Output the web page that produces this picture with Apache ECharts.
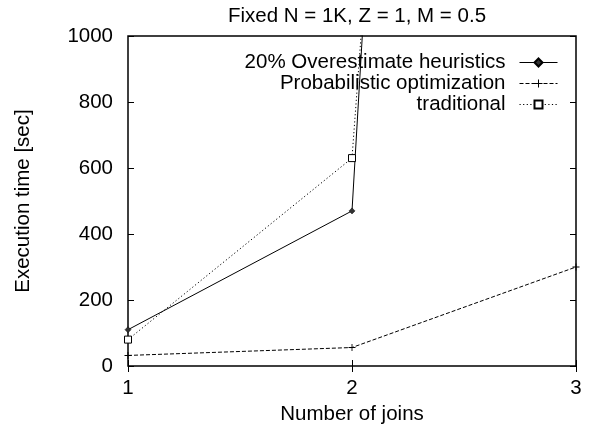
<!DOCTYPE html>
<html>
<head>
<meta charset="utf-8">
<script src="https://cdn.jsdelivr.net/npm/echarts@6/dist/echarts.min.js"></script>
<style>
  html, body { margin: 0; padding: 0; background: #fff; }
  #chart { width: 591px; height: 430px; }
</style>
</head>
<body>
<div id="chart"></div>
<script>
// Number of joins on the x axis
const joins = [1, 2, 3];

// Execution time [sec] per method
const overestimate = [110, 470, 12000];
const probabilistic = [32, 56, 300];
const traditional = [80, 630, 9800];

const seriesNames = [
  '20% Overestimate heuristics',
  'Probabilistic optimization',
  'traditional'
];

const yTicks = [0, 200, 400, 600, 800, 1000];

const FONT = 'Liberation Sans, Arial, Helvetica, sans-serif';
const FS = 20.5;
const plusPath = 'path://M0,3.5H8V4.5H0Z M3.5,0H4.5V8H3.5Z';

function pairs(values) {
  return joins.map((x, i) => [x, values[i]]);
}

const chart = echarts.init(document.getElementById('chart'), null, { renderer: 'canvas' });

function legendFor(name, top) {
  return {
    data: [name],
    right: 33,
    top: top,
    orient: 'vertical',
    align: 'right',
    itemWidth: 38,
    itemHeight: 10,
    padding: 0,
    selectedMode: false,
    lineStyle: { width: 1 },
    textStyle: {
      fontFamily: FONT,
      fontSize: FS,
      color: '#000',
      padding: [0, 9, 0, 0]
    }
  };
}

const option = {
  animation: false,
  backgroundColor: '#fff',
  title: {
    text: 'Fixed N = 1K, Z = 1, M = 0.5',
    left: 352,
    textAlign: 'center',
    top: 1,
    textStyle: { fontFamily: FONT, fontSize: FS, fontWeight: 'normal', color: '#000' }
  },
  legend: [
    legendFor(seriesNames[0], 52),
    legendFor(seriesNames[1], 73),
    legendFor(seriesNames[2], 94)
  ],
  grid: {
    left: 128,
    right: 15,
    top: 36,
    bottom: 55,
    show: true,
    borderColor: '#000',
    borderWidth: 1.5,
    backgroundColor: 'transparent'
  },
  xAxis: [
    {
      type: 'value',
      min: 1, max: 3, interval: 1,
      name: 'Number of joins',
      nameLocation: 'middle',
      nameGap: 38,
      nameTextStyle: { fontFamily: FONT, fontSize: FS, color: '#000' },
      axisLine: { show: false },
      axisTick: { show: true, inside: true, length: 6, lineStyle: { color: '#000', width: 1 } },
      axisLabel: { fontFamily: FONT, fontSize: FS, color: '#000', margin: 12 },
      splitLine: { show: false }
    },
    {
      type: 'value',
      position: 'top',
      min: 1, max: 3, interval: 1,
      axisLine: { show: false },
      axisTick: { show: true, inside: true, length: 6, lineStyle: { color: '#000', width: 1 } },
      axisLabel: { show: false },
      splitLine: { show: false }
    }
  ],
  yAxis: [
    {
      type: 'value',
      min: yTicks[0], max: yTicks[yTicks.length - 1], interval: 200,
      name: 'Execution time [sec]',
      nameLocation: 'middle',
      nameGap: 94,
      nameTextStyle: { fontFamily: FONT, fontSize: FS, color: '#000' },
      axisLine: { show: false },
      axisTick: { show: true, inside: true, length: 6, lineStyle: { color: '#000', width: 1 } },
      axisLabel: { fontFamily: FONT, fontSize: FS, color: '#000', margin: 15, formatter: (v) => String(v) },
      splitLine: { show: false }
    },
    {
      type: 'value',
      position: 'right',
      min: yTicks[0], max: yTicks[yTicks.length - 1], interval: 200,
      axisLine: { show: false },
      axisTick: { show: true, inside: true, length: 6, lineStyle: { color: '#000', width: 1 } },
      axisLabel: { show: false },
      splitLine: { show: false }
    }
  ],
  series: [
    {
      name: seriesNames[0],
      type: 'line',
      data: pairs(overestimate),
      clip: true,
      symbol: 'diamond',
      symbolSize: 6,
      showAllSymbol: true,
      lineStyle: { color: '#000', width: 1, type: 'solid' },
      itemStyle: { color: '#333', borderColor: '#000', borderWidth: 0.5 },
      z: 3
    },
    {
      name: seriesNames[1],
      type: 'line',
      data: pairs(probabilistic),
      clip: true,
      symbol: plusPath,
      symbolSize: 7,
      lineStyle: { color: '#000', width: 1, type: [4, 2] },
      itemStyle: { color: '#000', borderColor: '#000', borderWidth: 0 },
      z: 3
    },
    {
      name: seriesNames[2],
      type: 'line',
      data: pairs(traditional),
      clip: true,
      symbol: 'rect',
      symbolSize: 7,
      lineStyle: { color: '#000', width: 1, type: [1.2, 2.4] },
      itemStyle: { color: '#fff', borderColor: '#000', borderWidth: 1 },
      z: 3
    }
  ]
};

chart.setOption(option);
</script>
</body>
</html>
